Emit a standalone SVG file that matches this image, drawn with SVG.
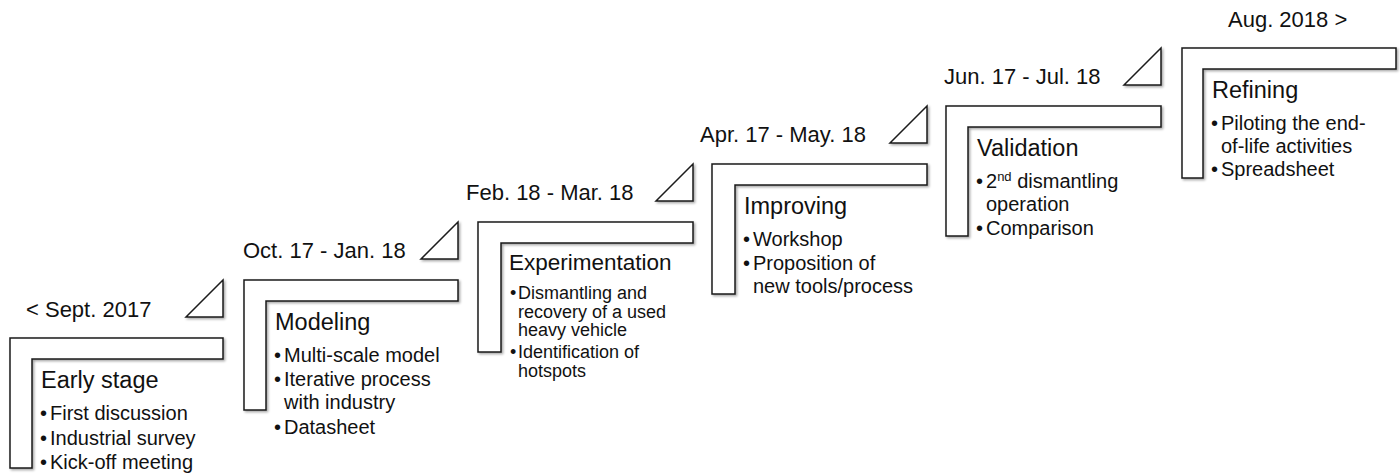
<svg xmlns="http://www.w3.org/2000/svg" width="1400" height="475" viewBox="0 0 1400 475">
<defs>
<filter id="sh" x="-10%" y="-10%" width="130%" height="130%">
<feDropShadow dx="1.5" dy="1.5" stdDeviation="1" flood-color="#000" flood-opacity="0.35"/>
</filter>
<style>
.shape{fill:#fff;stroke:#1a1a1a;stroke-width:1.5;stroke-linejoin:miter;filter:url(#sh)}
text{font-family:"Liberation Sans",Arial,Helvetica,sans-serif;fill:#111}
.date{font-size:22px}
.title{font-size:23.5px}
.b{font-size:20px}
.bs{font-size:18px}
</style>
</defs>
<rect width="1400" height="475" fill="#fff"/>

<g id="stage1">
<path class="shape" d="M10,338 H223 V359 H32 V468 H10 Z"/>
<path class="shape" d="M186,317 L223,280 V317 Z"/>
<text class="date" x="26" y="317">&lt; Sept. 2017</text>
<text class="title" x="41" y="388">Early stage</text>
<text class="b"><tspan x="40" y="420">•</tspan><tspan x="50" y="420">First discussion</tspan></text>
<text class="b"><tspan x="40" y="444.5">•</tspan><tspan x="50" y="444.5">Industrial survey</tspan></text>
<text class="b"><tspan x="40" y="469">•</tspan><tspan x="50" y="469">Kick-off meeting</tspan></text>
</g>

<g id="stage2">
<path class="shape" d="M244,280 H458 V301 H266 V410 H244 Z"/>
<path class="shape" d="M421,259 L458,222 V259 Z"/>
<text class="date" x="243" y="258">Oct. 17 - Jan. 18</text>
<text class="title" x="275" y="330">Modeling</text>
<text class="b"><tspan x="274" y="362">•</tspan><tspan x="284" y="362">Multi-scale model</tspan></text>
<text class="b"><tspan x="274" y="386">•</tspan><tspan x="284" y="386">Iterative process</tspan></text>
<text class="b" x="284" y="409">with industry</text>
<text class="b"><tspan x="274" y="434">•</tspan><tspan x="284" y="434">Datasheet</tspan></text>
</g>

<g id="stage3">
<path class="shape" d="M478,222 H693 V243 H501 V352 H478 Z"/>
<path class="shape" d="M656,201 L693,164 V201 Z"/>
<text class="date" x="466" y="200">Feb. 18 - Mar. 18</text>
<text class="title" x="509" y="270" style="font-size:22.5px">Experimentation</text>
<text class="bs"><tspan x="510" y="299">•</tspan><tspan x="518" y="299">Dismantling and</tspan></text>
<text class="bs" x="518" y="317.5">recovery of a used</text>
<text class="bs" x="518" y="336">heavy vehicle</text>
<text class="bs"><tspan x="510" y="358">•</tspan><tspan x="518" y="358">Identification of</tspan></text>
<text class="bs" x="518" y="377">hotspots</text>
</g>

<g id="stage4">
<path class="shape" d="M712,164 H927 V185 H735 V294 H712 Z"/>
<path class="shape" d="M890,143 L927,106 V143 Z"/>
<text class="date" x="700" y="142">Apr. 17 - May. 18</text>
<text class="title" x="744" y="214">Improving</text>
<text class="b"><tspan x="743" y="246">•</tspan><tspan x="753" y="246">Workshop</tspan></text>
<text class="b"><tspan x="743" y="270">•</tspan><tspan x="753" y="270">Proposition of</tspan></text>
<text class="b" x="753" y="293">new tools/process</text>
</g>

<g id="stage5">
<path class="shape" d="M946,106 H1161 V127 H968 V236 H946 Z"/>
<path class="shape" d="M1124,85 L1161,48 V85 Z"/>
<text class="date" x="944" y="84">Jun. 17 - Jul. 18</text>
<text class="title" x="977" y="156">Validation</text>
<text class="b"><tspan x="976" y="188">•</tspan><tspan x="986" y="188">2</tspan><tspan dy="-7" style="font-size:13px">nd</tspan><tspan dy="7"> dismantling</tspan></text>
<text class="b" x="986" y="211">operation</text>
<text class="b"><tspan x="976" y="235">•</tspan><tspan x="986" y="235">Comparison</tspan></text>
</g>

<g id="stage6">
<path class="shape" d="M1182,48 H1396 V69 H1203 V178 H1182 Z"/>
<text class="date" x="1228" y="27">Aug. 2018 &gt;</text>
<text class="title" x="1212" y="98">Refining</text>
<text class="b"><tspan x="1211" y="130">•</tspan><tspan x="1221" y="130">Piloting the end-</tspan></text>
<text class="b" x="1221" y="153">of-life activities</text>
<text class="b"><tspan x="1211" y="176">•</tspan><tspan x="1221" y="176">Spreadsheet</tspan></text>
</g>
</svg>
